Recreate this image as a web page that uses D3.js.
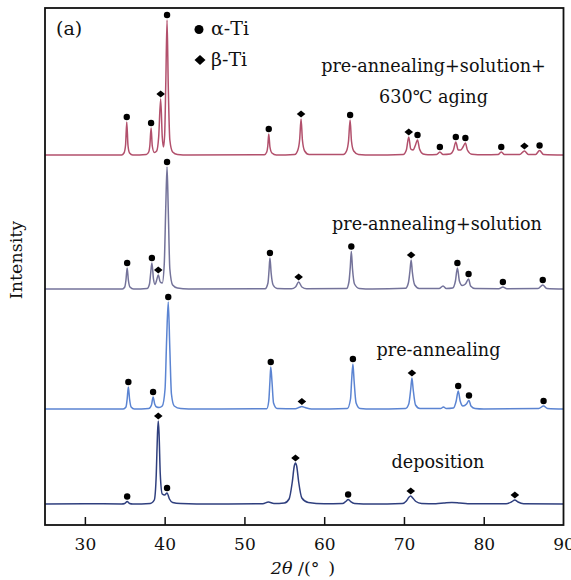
<!DOCTYPE html>
<html>
<head>
<meta charset="utf-8">
<script src="https://cdn.jsdelivr.net/npm/d3@7/dist/d3.min.js"></script>
<style>
  html, body { margin: 0; padding: 0; background: #fff; }
  svg { display: block; }
  text { font-family: "DejaVu Serif", "Liberation Serif", serif; fill: #111; }
</style>
</head>
<body>
<svg id="chart" width="571" height="580"></svg>
<script>
// XRD patterns, 2θ in degrees, intensity in arbitrary units above each pattern's own baseline
const depositionPattern = [
  [25,0],[30,0.3],[34.6,0],[35.0,0.5],[35.3,2.5],[35.6,0.5],[36,0],[38.2,0.5],[38.7,4],[38.95,30],[39.1,70],[39.2,83],
  [39.3,70],[39.45,30],[39.7,10],[40.0,9],[40.3,11],[40.6,5],[41.0,1.5],[42,0.5],[46,0],[52.3,0.3],[53.0,2],[53.7,0.5],
  [55,1],[55.6,5],[56.0,22],[56.25,38],[56.4,41],[56.55,38],[56.8,22],[57.2,6],[58,1.5],[60,0.3],[62.3,0.5],[62.7,2.5],
  [63.0,4.5],[63.3,2.5],[63.8,0.5],[66,0],[69.8,0.5],[70.3,3],[70.6,6.5],[70.85,8],[71.1,6],[71.5,2.5],[72.2,0.6],
  [74,0.3],[75,1],[76,1.6],[77,1],[78,0.3],[82.8,0.3],[83.5,2.2],[83.9,4],[84.3,2],[85,0.3],[90,0]
];
const preAnnealingPattern = [
  [25,0],[34.8,0],[35.15,2],[35.3,10],[35.45,22],[35.6,10],[35.8,2],[36.2,0],[38.0,0.5],[38.35,4],[38.55,12],[38.75,5],
  [39.0,2],[39.3,1.5],[39.7,3],[40.05,20],[40.25,70],[40.45,107],[40.65,60],[40.85,15],[41.2,3],[42,0.5],[44,0],
  [52.8,0.3],[53.05,8],[53.2,28],[53.3,42],[53.45,28],[53.65,6],[54.1,0.5],[56.4,0.3],[56.9,1.8],[57.2,2.5],[57.6,1.5],
  [58.4,0],[62.9,0.5],[63.3,10],[63.45,30],[63.6,45],[63.75,28],[64.0,6],[64.5,0.5],[66,0],[70.2,0.6],[70.6,5],
  [70.85,20],[71.0,31],[71.15,20],[71.45,4],[72.0,0.5],[74.6,0.5],[74.95,2],[75.3,0.5],[76.2,1],[76.55,8],[76.8,18],
  [77.05,8],[77.4,3],[77.85,5],[78.15,8.5],[78.4,3],[78.9,0.5],[80,0],[86.9,0.5],[87.5,3],[88,0.5],[90,0]
];
const solutionPattern = [
  [25,0],[34.7,0],[35.0,2],[35.15,9],[35.3,21],[35.45,9],[35.65,2],[36.1,0],[37.8,0.5],[38.1,5],[38.25,16],[38.4,26],
  [38.6,10],[38.8,4.5],[39.0,9],[39.2,14],[39.45,7],[39.7,6],[39.95,25],[40.15,85],[40.3,122],[40.45,80],[40.65,20],
  [41.0,4],[41.6,1],[43,0],[52.6,0.3],[52.95,6],[53.08,18],[53.2,31],[53.35,16],[53.6,4],[54.1,0.5],[55.9,0.3],
  [56.4,2],[56.8,7],[57.2,2],[57.8,0.3],[62.8,0.5],[63.1,7],[63.27,22],[63.4,37.5],[63.55,20],[63.8,5],[64.4,0.5],
  [66,0],[70.2,0.7],[70.55,6],[70.75,18],[70.9,29],[71.05,17],[71.35,4],[71.9,0.6],[74.4,0.4],[74.9,3],[75.3,0.5],
  [76.1,1],[76.45,8],[76.7,21],[76.95,8],[77.3,3.5],[77.7,5],[78.1,10],[78.35,3],[78.9,0.5],[81.9,0.3],[82.4,2],
  [82.9,0.3],[86.8,0.5],[87.4,4],[87.9,0.5],[90,0]
];
const agingPattern = [
  [25,0],[34.6,0],[34.9,2],[35.1,10],[35.25,33],[35.4,10],[35.6,2],[36.0,0],[37.7,0.5],[38.0,3],[38.15,10],[38.3,27],
  [38.45,9],[38.7,2.5],[39.0,4],[39.25,18],[39.5,56],[39.7,18],[39.85,8],[40.0,20],[40.15,75],[40.3,135],[40.45,70],
  [40.65,15],[41.0,3],[41.6,0.5],[43,0],[52.5,0.3],[52.8,3],[52.93,9],[53.05,21],[53.2,8],[53.45,2],[54,0],[56.3,0.5],
  [56.7,5],[56.93,16],[57.1,36],[57.27,15],[57.55,4],[58.1,0.5],[62.4,0.5],[62.8,4],[63.05,14],[63.25,35],[63.42,14],
  [63.7,4],[64.3,0.5],[66,0],[69.9,0.5],[70.3,5],[70.6,18],[70.85,6],[71.15,5],[71.4,9],[71.7,15],[71.95,6],[72.4,1],
  [73,0.3],[74.1,0.5],[74.5,3],[74.9,0.5],[75.8,1],[76.2,5],[76.5,13],[76.8,5],[77.1,5],[77.4,8],[77.7,12],[77.95,5],
  [78.5,0.8],[80,0.2],[81.8,0.4],[82.2,3],[82.6,0.4],[84.5,0.5],[85.1,4],[85.6,0.5],[86.5,0.5],[87.0,4.5],[87.5,0.5],[90,0]
];

// Vertical offsets used to stack the patterns
const patternOffsets = [21, 116, 236, 370];
const patternNames = ["deposition", "pre-annealing", "pre-annealing+solution", ["pre-annealing+solution+", "630\u2103 aging"]];

// Indexed reflections (2θ) for each pattern
const alphaPeaks = [
  [35.3, 40.3, 63.0],
  [35.45, 38.55, 40.45, 53.3, 63.6, 76.8, 78.15, 87.5],
  [35.3, 38.4, 40.3, 53.2, 63.4, 76.7, 78.1, 82.4, 87.4],
  [35.25, 38.3, 40.3, 53.05, 63.25, 71.7, 74.5, 76.5, 77.7, 82.2, 87.0]
];
const betaPeaks = [
  [39.2, 56.4, 70.85, 83.9],
  [57.2, 71.0],
  [39.2, 56.8, 70.9],
  [39.5, 57.1, 70.6, 85.1]
];

const xTicks = [30, 40, 50, 60, 70, 80, 90];
const patterns = [depositionPattern, preAnnealingPattern, solutionPattern, agingPattern];
const colors = ["#2f3f7e", "#5b84d2", "#74739a", "#b2506c"];

const svg = d3.select("#chart");
const frameLeft = 45, frameRight = 563.5, frameTop = 8, frameBottom = 525;

const x = d3.scaleLinear().domain([25, 90]).range([frameLeft, frameRight]);
const y = d3.scaleLinear().domain([0, 517]).range([frameBottom, frameTop]);

const line = d3.line()
  .x(d => x(d[0]))
  .curve(d3.curveMonotoneX);

const plot = svg.append("g");

patterns.forEach((pts, i) => {
  const off = patternOffsets[i];
  plot.append("path")
    .datum(pts)
    .attr("fill", "none")
    .attr("stroke", colors[i])
    .attr("stroke-width", 1.5)
    .attr("stroke-linejoin", "round")
    .attr("d", line.y(d => y(d[1] + off)));

  // intensity at a reflection, taken from the nearest recorded point
  const at = pos => {
    let best = pts[0];
    pts.forEach(p => { if (Math.abs(p[0] - pos) < Math.abs(best[0] - pos)) best = p; });
    return best[1];
  };

  plot.selectAll(null)
    .data(alphaPeaks[i])
    .join("circle")
    .attr("cx", d => x(d))
    .attr("cy", d => y(at(d) + off) - 5)
    .attr("r", 3.2)
    .attr("fill", "#000");

  plot.selectAll(null)
    .data(betaPeaks[i])
    .join("path")
    .attr("transform", d => `translate(${x(d)},${y(at(d) + off) - 5})`)
    .attr("d", "M0,-3.6L4.3,0L0,3.6L-4.3,0Z")
    .attr("fill", "#000");
});

// Pattern labels
const labelPos = [[438, 468], [438.5, 355.5], [437, 230], [433.5, 71.5]];
patternNames.forEach((name, i) => {
  const t = svg.append("text")
    .attr("x", labelPos[i][0])
    .attr("y", labelPos[i][1])
    .attr("text-anchor", "middle")
    .attr("font-size", 17.6);
  if (Array.isArray(name)) {
    name.forEach((s, k) => t.append("tspan").attr("x", labelPos[i][0]).attr("dy", k === 0 ? 0 : 31).text(s));
  } else {
    t.text(name);
  }
});

// Frame
svg.append("rect")
  .attr("x", frameLeft).attr("y", frameTop)
  .attr("width", frameRight - frameLeft).attr("height", frameBottom - frameTop)
  .attr("fill", "none").attr("stroke", "#111").attr("stroke-width", 1.8);

// Bottom axis, ticks pointing inward
const xAxis = d3.axisBottom(x).tickValues(xTicks).tickSizeInner(-8).tickSizeOuter(0).tickPadding(13).tickFormat(d3.format("d"));
const gx = svg.append("g").attr("transform", `translate(0,${frameBottom})`).call(xAxis);
gx.select(".domain").remove();
gx.selectAll(".tick line").attr("stroke", "#111").attr("stroke-width", 1.5)
  .filter(d => d === 90).remove();
gx.selectAll(".tick text").attr("font-size", 17).attr("fill", "#111")
  .attr("font-family", "DejaVu Serif, serif");

// Axis titles
const xt = svg.append("text").attr("x", 303).attr("y", 574).attr("text-anchor", "middle").attr("font-size", 17.5);
xt.append("tspan").attr("font-style", "italic").text("2\u03b8");
xt.append("tspan").text(" /(\u00b0\u2002)");

svg.append("text")
  .attr("transform", "translate(22,260) rotate(-90)")
  .attr("text-anchor", "middle")
  .attr("font-size", 17.5)
  .text("Intensity");

// Panel tag and legend
svg.append("text").attr("x", 56).attr("y", 34.5).attr("font-size", 19).text("(a)");
svg.append("circle").attr("cx", 199).attr("cy", 29.5).attr("r", 4.5).attr("fill", "#000");
svg.append("text").attr("x", 211).attr("y", 35).attr("font-size", 19).text("\u03b1-Ti");
svg.append("path").attr("transform", "translate(200,60)").attr("d", "M0,-5L5.5,0L0,5L-5.5,0Z").attr("fill", "#000");
svg.append("text").attr("x", 211).attr("y", 65.5).attr("font-size", 19).text("\u03b2-Ti");
</script>
</body>
</html>
